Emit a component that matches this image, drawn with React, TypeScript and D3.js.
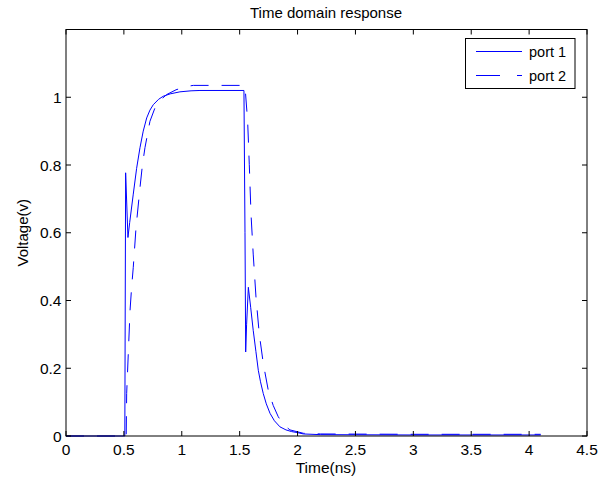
import React from "react";
import * as d3 from "d3";

const title = "Time domain response";
const xLabel = "Time(ns)";
const yLabel = "Voltage(v)";
const seriesNames = ["port 1", "port 2"];
const xTicks = [0, 0.5, 1, 1.5, 2, 2.5, 3, 3.5, 4, 4.5];
const yTicks = [0, 0.2, 0.4, 0.6, 0.8, 1];

const port1T = [0, 0.5, 0.508, 0.515, 0.535, 0.55, 0.581, 0.61, 0.639, 0.667, 0.697, 0.725, 0.754, 0.8, 0.84, 0.9, 0.984, 1.08, 1.157, 1.537, 1.546, 1.552, 1.56, 1.575, 1.595, 1.617, 1.64, 1.661, 1.68, 1.704, 1.73, 1.762, 1.8, 1.848, 1.9, 1.949, 2.0, 2.05, 2.2, 3.0, 4.1];
const port1V = [0, 0, 0, 0.777, 0.586, 0.63, 0.714, 0.79, 0.851, 0.9, 0.939, 0.962, 0.978, 0.994, 1.003, 1.01, 1.016, 1.019, 1.02, 1.02, 0.6, 0.248, 0.33, 0.439, 0.38, 0.312, 0.25, 0.194, 0.16, 0.125, 0.095, 0.067, 0.045, 0.027, 0.018, 0.013, 0.01, 0.006, 0.004, 0.003, 0.003];

const port2T = [0, 0.52, 0.524, 0.54, 0.553, 0.567, 0.581, 0.605, 0.639, 0.66, 0.682, 0.725, 0.769, 0.82, 0.87, 0.95, 1.042, 1.1, 1.531, 1.546, 1.569, 1.583, 1.598, 1.617, 1.641, 1.669, 1.704, 1.747, 1.79, 1.833, 1.88, 1.934, 2.05, 2.2, 3.0, 4.1];
const port2V = [0, 0, 0.125, 0.26, 0.37, 0.44, 0.498, 0.616, 0.733, 0.8, 0.851, 0.929, 0.969, 0.993, 1.008, 1.022, 1.032, 1.035, 1.035, 1.032, 0.929, 0.802, 0.655, 0.537, 0.41, 0.302, 0.214, 0.135, 0.09, 0.057, 0.033, 0.018, 0.008, 0.006, 0.005, 0.005];

const W = 598;
const H = 479;
const L = 66, R = 587, T = 29.5, B = 436;
const FONT = "'Liberation Sans', Arial, Helvetica, sans-serif";

export default function App() {
  const x = d3.scaleLinear().domain([0, 4.5]).range([L, R]);
  const y = d3.scaleLinear().domain([0, 1.2]).range([B, T]);
  const line = d3.line<[number, number]>().x((d) => x(d[0])).y((d) => y(d[1]));
  const p1 = port1T.map((t, i) => [t, port1V[i]] as [number, number]);
  const p2 = port2T.map((t, i) => [t, port2V[i]] as [number, number]);
  const tl = 5;
  return (
    <svg width={W} height={H} style={{ position: "absolute", left: 0, top: 0, background: "#fff" }} fontFamily={FONT}>
      <rect x={0} y={0} width={W} height={H} fill="#fff" />
      <path d={line(p1) || ""} fill="none" stroke="#0000ff" strokeWidth={1} />
      <path d={line(p2) || ""} fill="none" stroke="#0000ff" strokeWidth={1} strokeDasharray="18,13" />
      <rect x={L} y={T} width={R - L} height={B - T} fill="none" stroke="#000" strokeWidth={1} />
      {xTicks.map((v) => (
        <g key={"x" + v}>
          <line x1={x(v)} x2={x(v)} y1={B} y2={B - tl} stroke="#000" />
          <line x1={x(v)} x2={x(v)} y1={T} y2={T + tl} stroke="#000" />
          <text x={x(v)} y={455} fontSize={15.5} textAnchor="middle" fill="#000">{String(v)}</text>
        </g>
      ))}
      {yTicks.map((v) => (
        <g key={"y" + v}>
          <line x1={L} x2={L + tl} y1={y(v)} y2={y(v)} stroke="#000" />
          <line x1={R} x2={R - tl} y1={y(v)} y2={y(v)} stroke="#000" />
          <text x={L - 4.5} y={y(v) + 5.5} fontSize={15.5} textAnchor="end" fill="#000">{String(v)}</text>
        </g>
      ))}
      <text x={326} y={18} fontSize={15} textAnchor="middle" fill="#000">{title}</text>
      <text x={326} y={473} fontSize={15.5} textAnchor="middle" fill="#000">{xLabel}</text>
      <text transform={`translate(27.5,${(T + B) / 2}) rotate(-90)`} fontSize={15} textAnchor="middle" fill="#000">{yLabel}</text>
      <rect x={465.5} y={38.5} width={109.5} height={50} fill="#fff" stroke="#000" strokeWidth={1} />
      <line x1={476} x2={522} y1={51.5} y2={51.5} stroke="#0000ff" />
      <line x1={476} x2={522} y1={75.5} y2={75.5} stroke="#0000ff" strokeDasharray="24,17" />
      <text x={529} y={57} fontSize={14.5} fill="#000">{seriesNames[0]}</text>
      <text x={529} y={81} fontSize={14.5} fill="#000">{seriesNames[1]}</text>
    </svg>
  );
}
